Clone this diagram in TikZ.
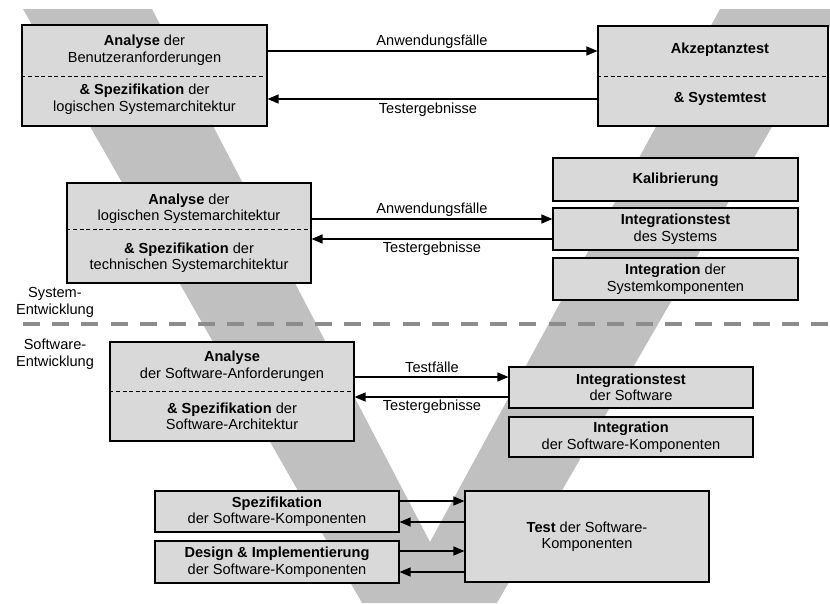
\documentclass[tikz,border=0pt]{standalone}
\usepackage{fontspec}
\setmainfont{Liberation Sans}
\usetikzlibrary{arrows.meta}
\definecolor{vgray}{RGB}{192,192,192}
\definecolor{boxfill}{RGB}{217,217,217}
\definecolor{sepgray}{RGB}{140,140,140}
\begin{document}
\begin{tikzpicture}[x=1pt,y=-1pt,
  font=\fontsize{14.6}{16.5}\selectfont,
  box/.style={draw, line width=1.1pt, fill=boxfill, inner sep=0pt, align=center},
  txt/.style={inner sep=0pt, align=center},
  lbl/.style={inner sep=0pt},
  divider/.style={line width=0.9pt, dash pattern=on 4pt off 2.6pt},
  arr/.style={line width=1.2pt, -{Triangle[length=11pt,width=9pt]}},
  sep/.style={line width=4pt, sepgray, dash pattern=on 17pt off 12.2pt}]

\clip (0,0) rectangle (830,603);

% the V in the background
\fill[vgray] (23,9) -- (152,9) -- (430,542) -- (720,9) -- (840,9)
  -- (497,603) -- (362,603) -- cycle;

% system level, top
\node[box, minimum width=245, minimum height=101] (b1) at (144.5,75.5) {};
\draw[divider] (b1.west |- 0,76) -- (b1.east |- 0,76);
\node[txt] (b1u) at (b1.center |- 0,50) {\textbf{Analyse} der\\Benutzeranforderungen};
\node[txt] (b1l) at (b1.center |- 0,99) {\textbf{\& Spezifikation} der\\logischen Systemarchitektur};

\node[box, minimum width=230, minimum height=100] (b2) at (713,76) {};
\draw[divider] (b2.west |- 0,76) -- (b2.east |- 0,76);
\node[txt] (b2u) at (720,50) {\textbf{Akzeptanztest}};
\node[txt] (b2l) at (720,99) {\textbf{\& Systemtest}};

\draw[arr] (b1.east |- 0,51) -- (b2.west |- 0,51);
\draw[arr] (b2.west |- 0,99) -- (b1.east |- 0,99);
\node[lbl] (l1) at (432,42) {Anwendungsfälle};
\node[lbl] (l2) at (428,110) {Testergebnisse};

% system level, middle
\node[box, minimum width=244, minimum height=100] (b3) at (189,233) {};
\draw[divider] (b3.west |- 0,229) -- (b3.east |- 0,229);
\node[txt] (b3u) at (b3.center |- 0,208.5) {\textbf{Analyse} der\\logischen Systemarchitektur};
\node[txt] (b3l) at (b3.center |- 0,257.5) {\textbf{\& Spezifikation} der\\technischen Systemarchitektur};

\node[box, minimum width=245, minimum height=43] (kal) at (675.5,179.5) {\textbf{Kalibrierung}};
\node[box, minimum width=245, minimum height=42] (its) at (675.5,229) {\textbf{Integrationstest}\\des Systems};
\node[box, minimum width=245, minimum height=42] (isk) at (675.5,279) {\textbf{Integration} der\\Systemkomponenten};

\draw[arr] (b3.east |- 0,219) -- (its.west |- 0,219);
\draw[arr] (its.west |- 0,239) -- (b3.east |- 0,239);
\node[lbl] (l3) at (432,210) {Anwendungsfälle};
\node[lbl] (l4) at (432,249) {Testergebnisse};

% boundary between system and software development
\coordinate (sepL) at (23,324);
\coordinate (sepR) at (830,324);
\draw[sep] (sepL) -- (sepR);
\node[txt] (sys) at (55,302.5) {System-\\Entwicklung};
\node[txt] (sw) at (55,354) {Software-\\Entwicklung};

% software level
\node[box, minimum width=244, minimum height=99] (b4) at (232,391.5) {};
\draw[divider] (b4.west |- 0,391) -- (b4.east |- 0,391);
\node[txt] (b4u) at (b4.center |- 0,366) {\textbf{Analyse}\\der Software-Anforderungen};
\node[txt] (b4l) at (b4.center |- 0,416.5) {\textbf{\& Spezifikation} der\\Software-Architektur};

\node[box, minimum width=244, minimum height=41] (itsw) at (631,387.5) {\textbf{Integrationstest}\\der Software};
\node[box, minimum width=244, minimum height=40] (iswk) at (631,437) {\textbf{Integration}\\der Software-Komponenten};

\draw[arr] (b4.east |- 0,377) -- (itsw.west |- 0,377);
\draw[arr] (itsw.west |- 0,397) -- (b4.east |- 0,397);
\node[lbl] (l5) at (432,367) {Testfälle};
\node[lbl] (l6) at (432,407) {Testergebnisse};

% component level
\node[box, minimum width=244, minimum height=41] (spz) at (277,511.5) {\textbf{Spezifikation}\\der Software-Komponenten};
\node[box, minimum width=244, minimum height=42] (dsg) at (277,562) {\textbf{Design \& Implementierung}\\der Software-Komponenten};
\node[box, minimum width=244, minimum height=91] (tst) at (587,536.5) {\textbf{Test} der Software-\\Komponenten};

\draw[arr] (spz.east |- 0,501) -- (tst.west |- 0,501);
\draw[arr] (tst.west |- 0,522) -- (spz.east |- 0,522);
\draw[arr] (dsg.east |- 0,551) -- (tst.west |- 0,551);
\draw[arr] (tst.west |- 0,572) -- (dsg.east |- 0,572);

\end{tikzpicture}
\end{document}
